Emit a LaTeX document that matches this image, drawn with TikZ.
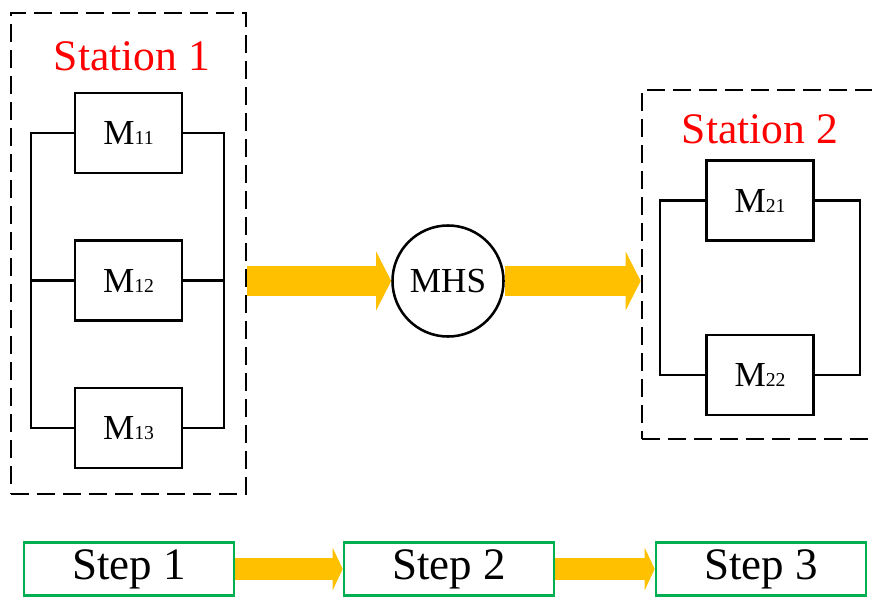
\documentclass[tikz,border=0pt]{standalone}
\usepackage{fontspec}
\setmainfont{Liberation Serif}
\usetikzlibrary{positioning, arrows.meta, calc}
\definecolor{arrowyellow}{HTML}{FFC000}
\definecolor{stepgreen}{HTML}{00B050}

\begin{document}
\begin{tikzpicture}[
  x=0.025cm, y=-0.025cm,
  machine/.style={draw, line width=1.5pt, minimum width=2.675cm, minimum height=2cm,
                  inner sep=0pt, font=\fontsize{25}{25}\selectfont},
  station/.style={draw, line width=1.8pt, dash pattern=on 12.5pt off 6pt, inner sep=0pt},
  title/.style={text=red, anchor=base, font=\fontsize{31}{31}\selectfont},
  bus/.style={line width=1.5pt},
  stepbox/.style={draw=stepgreen, line width=1.8pt, minimum width=5.25cm,
                  minimum height=1.325cm, inner sep=0pt, font=\fontsize{32}{32}\selectfont},
  bigarrow/.style={draw=arrowyellow, line width=0.75cm,
                   -{Triangle[length=0.375cm, width=1.45cm]}},
  smallarrow/.style={draw=arrowyellow, line width=0.55cm,
                     -{Triangle[length=0.25cm, width=1.05cm]}},
]
\useasboundingbox (0,0) rectangle (872,597);
\clip (0,0) rectangle (872,597);

% station 1
\node[station, minimum width=5.875cm, minimum height=12.025cm] (st1) at (128.5,253.5) {};
\node[title] (st1title) at (132,71) {Station 1};
\node[machine] (m11) at (128.5,133) {M{\fontsize{14}{14}\selectfont 11}};
\node[machine] (m12) at (128.5,280.5) {M{\fontsize{14}{14}\selectfont 12}};
\node[machine] (m13) at (128.5,428) {M{\fontsize{14}{14}\selectfont 13}};
\draw[bus] (m11.west) -- ++(-43,0) |- (m13.west);
\draw[bus] (m12.west) -- ++(-43,0);
\draw[bus] (m11.east) -- ++(41,0) |- (m13.east);
\draw[bus] (m12.east) -- ++(41,0);

% material handling
\node[draw, circle, line width=1.8pt, minimum size=2.775cm, inner sep=0pt,
      font=\fontsize{25}{25}\selectfont] (mhs) at (448,281) {MHS};

% station 2
\node[station, minimum width=6cm, minimum height=8.725cm] (st2) at (762,264.5) {};
\node[title] (st2title) at (760,143) {Station 2};
\node[machine] (m21) at (760,200.5) {M{\fontsize{14}{14}\selectfont 21}};
\node[machine] (m22) at (760,375) {M{\fontsize{14}{14}\selectfont 22}};
\draw[bus] (m21.west) -- ++(-45,0) |- (m22.west);
\draw[bus] (m21.east) -- ++(45,0) |- (m22.east);

\draw[bigarrow] (st1.east |- mhs) -- (mhs.west);
\draw[bigarrow] (mhs.east) -- (st2.west |- mhs);

% steps
\node[stepbox] (step1) at (129,569) {Step 1};
\node[stepbox] (step2) at (449,569) {Step 2};
\node[stepbox] (step3) at (761,569) {Step 3};
\draw[smallarrow] (step1) -- (step2);
\draw[smallarrow] (step2) -- (step3);
\end{tikzpicture}
\end{document}
